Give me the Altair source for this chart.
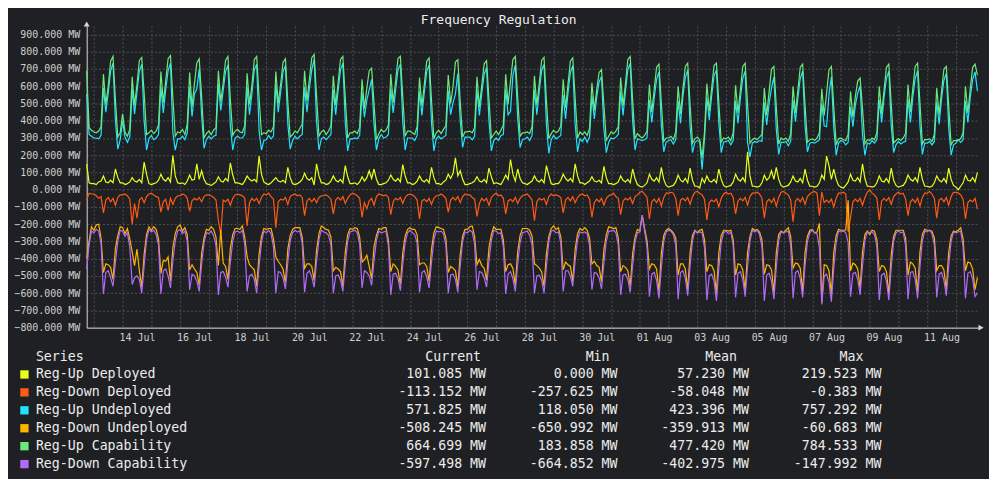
import altair as alt
import pandas as pd

# ---------------- data (2-hour samples, from 12 Jul 18:00) ----------------
START = "2023-07-12 18:00"
STEP = "2h"

reg_up_capability = [
    690, 360, 345,
    335, 330, 340, 365, 670, 495, 600, 745, 773, 520, 305, 330,
    440, 335, 310, 350, 655, 490, 610, 750, 767, 560, 320, 330,
    345, 325, 340, 375, 685, 505, 630, 760, 778, 530, 310, 335,
    330, 350, 320, 380, 680, 480, 615, 735, 759, 540, 300, 325,
    340, 320, 345, 360, 690, 510, 620, 750, 773, 525, 315, 340,
    350, 335, 330, 370, 675, 495, 605, 755, 773, 535, 320, 330,
    325, 345, 335, 365, 685, 500, 610, 740, 759, 510, 305, 320,
    340, 330, 355, 380, 690, 515, 640, 765, 784.5, 545, 310, 335,
    345, 320, 340, 370, 660, 490, 620, 755, 773, 530, 300, 330,
    330, 340, 325, 360, 640, 470, 590, 690, 705, 500, 290, 325,
    350, 335, 345, 375, 670, 505, 625, 760, 773, 540, 310, 340,
    340, 330, 320, 365, 650, 485, 610, 745, 764, 520, 295, 330,
    345, 325, 350, 370, 665, 500, 600, 740, 754, 510, 305, 335,
    335, 340, 330, 360, 655, 480, 605, 730, 748, 525, 300, 320,
    340, 320, 345, 375, 670, 495, 630, 755, 773, 535, 310, 330,
    330, 335, 325, 365, 660, 490, 615, 750, 767, 515, 295, 325,
    345, 330, 340, 370, 640, 475, 610, 745, 764, 530, 300, 335,
    320, 335, 315, 355, 620, 460, 580, 680, 697, 490, 285, 310,
    335, 325, 340, 365, 650, 485, 615, 755, 773, 520, 295, 325,
    310, 300, 315, 340, 610, 450, 580, 710, 728, 500, 280, 300,
    300, 310, 290, 335, 600, 440, 585, 715, 734, 490, 270, 295,
    305, 290, 183.9, 330, 615, 455, 590, 720, 734, 505, 275, 300,
    295, 305, 285, 330, 605, 445, 580, 715, 734, 495, 270, 290,
    300, 290, 305, 320, 590, 430, 570, 700, 715, 480, 265, 300,
    290, 300, 280, 325, 600, 445, 575, 710, 728, 490, 275, 290,
    295, 285, 300, 330, 585, 430, 560, 695, 715, 480, 260, 295,
    300, 290, 285, 320, 570, 420, 540, 630, 647, 470, 265, 290,
    285, 300, 290, 330, 600, 440, 580, 710, 728, 495, 270, 285,
    295, 285, 300, 325, 610, 450, 585, 715, 734, 500, 265, 290,
    290, 295, 280, 320, 590, 435, 570, 700, 715, 485, 260, 285,
    285, 290, 295, 330, 600, 445, 585, 710, 728, 664.7,
]

reg_up_undeployed = [
    555, 320, 310,
    300, 300, 295, 315, 590, 450, 560, 690, 733, 400, 235, 290,
    400, 305, 275, 305, 585, 440, 565, 690, 727, 400, 230, 295,
    315, 290, 300, 320, 595, 445, 580, 690, 733, 330, 230, 295,
    295, 310, 290, 330, 595, 425, 555, 585, 699, 430, 240, 290,
    310, 295, 310, 315, 615, 460, 575, 685, 723, 370, 230, 300,
    310, 300, 300, 320, 595, 435, 555, 695, 728, 340, 230, 285,
    290, 315, 295, 310, 615, 450, 565, 685, 719, 380, 235, 285,
    310, 295, 310, 320, 595, 450, 585, 695, 757.3, 395, 230, 295,
    305, 290, 305, 320, 580, 435, 575, 695, 733, 390, 225, 295,
    295, 300, 295, 315, 565, 420, 520, 580, 640, 380, 230, 295,
    320, 300, 305, 320, 585, 445, 575, 695, 728, 395, 230, 300,
    300, 300, 285, 315, 570, 430, 565, 685, 724, 390, 225, 295,
    310, 295, 305, 315, 575, 435, 505, 555, 674, 400, 245, 305,
    305, 305, 290, 310, 580, 430, 560, 670, 708, 400, 225, 285,
    300, 285, 315, 320, 585, 435, 455, 665, 723, 415, 245, 290,
    295, 305, 285, 315, 580, 435, 570, 690, 727, 375, 210, 290,
    315, 295, 305, 315, 550, 410, 560, 680, 719, 380, 220, 295,
    280, 305, 275, 305, 545, 410, 535, 625, 657, 355, 215, 275,
    300, 295, 305, 320, 570, 430, 570, 695, 733, 400, 230, 295,
    290, 285, 290, 300, 520, 390, 530, 640, 683, 370, 220, 275,
    285, 290, 265, 290, 515, 385, 540, 650, 694, 365, 215, 275,
    285, 280, 118.1, 290, 535, 405, 545, 660, 694, 385, 215, 275,
    280, 285, 260, 285, 515, 385, 530, 645, 689, 276, 190, 270,
    280, 275, 285, 280, 505, 375, 500, 590, 655, 350, 205, 275,
    275, 280, 255, 280, 520, 395, 530, 645, 688, 370, 220, 270,
    275, 270, 280, 290, 500, 370, 365, 555, 655, 360, 200, 270,
    285, 280, 260, 275, 480, 365, 490, 560, 602, 320, 200, 270,
    265, 285, 270, 290, 520, 390, 535, 645, 688, 370, 215, 260,
    280, 265, 275, 280, 525, 390, 535, 645, 689, 370, 205, 270,
    270, 280, 260, 280, 510, 380, 525, 635, 675, 360, 200, 260,
    270, 290, 275, 290, 515, 390, 535, 640, 683, 571.8,
]

reg_up_deployed = [
    148, 40, 35,
    35, 30, 45, 50, 80, 45, 40, 55, 40, 120, 70, 40,
    40, 30, 35, 45, 70, 50, 45, 60, 40, 160, 90, 35,
    30, 35, 40, 55, 90, 60, 50, 70, 45, 200, 80, 40,
    35, 40, 30, 50, 85, 55, 60, 150, 60, 110, 60, 35,
    30, 25, 35, 45, 75, 50, 45, 65, 50, 155, 85, 40,
    40, 35, 30, 50, 80, 60, 50, 60, 45, 195, 90, 45,
    35, 30, 40, 55, 70, 50, 45, 55, 40, 130, 70, 35,
    30, 35, 45, 60, 95, 65, 55, 70, 27, 150, 80, 40,
    40, 30, 35, 50, 80, 55, 45, 60, 40, 140, 75, 35,
    35, 40, 30, 45, 75, 50, 70, 110, 65, 120, 60, 30,
    30, 35, 40, 55, 85, 60, 50, 65, 45, 145, 80, 40,
    40, 30, 35, 50, 80, 55, 45, 60, 40, 130, 70, 35,
    35, 30, 45, 55, 90, 65, 95, 185, 80, 110, 60, 30,
    30, 35, 40, 50, 75, 50, 45, 60, 40, 125, 75, 35,
    40, 35, 30, 55, 85, 60, 175, 90, 50, 120, 65, 40,
    35, 30, 40, 50, 80, 55, 45, 60, 40, 140, 85, 35,
    30, 35, 35, 55, 90, 65, 50, 65, 45, 150, 80, 40,
    40, 30, 40, 50, 75, 50, 45, 55, 40, 135, 70, 35,
    35, 30, 35, 45, 80, 55, 45, 60, 40, 120, 65, 30,
    20, 15, 25, 40, 90, 60, 50, 70, 45, 130, 60, 25,
    15, 20, 25, 45, 85, 55, 45, 65, 40, 125, 55, 20,
    20, 10, 66, 40, 80, 50, 45, 60, 40, 120, 60, 25,
    15, 20, 25, 45, 90, 60, 50, 70, 45, 219.5, 80, 20,
    20, 15, 20, 40, 85, 55, 70, 110, 60, 130, 60, 25,
    15, 20, 25, 45, 80, 50, 45, 65, 40, 120, 55, 20,
    20, 15, 20, 40, 85, 60, 195, 140, 60, 120, 60, 25,
    15, 10, 25, 45, 90, 55, 50, 70, 45, 150, 65, 20,
    20, 15, 20, 40, 80, 50, 45, 65, 40, 125, 55, 25,
    15, 20, 25, 45, 85, 60, 50, 70, 45, 130, 60, 20,
    20, 15, 20, 40, 80, 55, 45, 65, 40, 125, 60, 25,
    15, 0, 20, 40, 85, 55, 50, 70, 45, 101.1,
]

reg_down_deployed = [
    -60, -20, -25,
    -25, -35, -50, -40, -135, -60, -45, -70, -50, -90, -45, -30,
    -30, -25, -35, -55, -200, -80, -165, -60, -45, -75, -40, -25,
    -20, -30, -40, -45, -130, -70, -55, -120, -50, -85, -50, -35,
    -35, -25, -30, -50, -125, -65, -50, -60, -45, -70, -40, -30,
    -30, -35, -45, -60, -180, -257.6, -60, -70, -55, -90, -50, -30,
    -25, -30, -35, -50, -210, -75, -50, -65, -50, -80, -45, -25,
    -30, -20, -40, -55, -220, -70, -55, -60, -45, -85, -40, -30,
    -25, -35, -30, -45, -150, -65, -50, -70, -50, -75, -45, -35,
    -35, -30, -40, -55, -140, -60, -45, -60, -40, -80, -50, -30,
    -20, -25, -35, -50, -160, -75, -110, -65, -50, -90, -40, -25,
    -30, -35, -30, -45, -145, -70, -50, -60, -45, -80, -45, -30,
    -25, -30, -40, -60, -170, -65, -55, -70, -50, -85, -50, -35,
    -35, -25, -35, -50, -130, -60, -45, -60, -40, -75, -40, -25,
    -30, -30, -45, -55, -155, -80, -50, -65, -50, -90, -45, -30,
    -20, -35, -30, -50, -140, -65, -55, -70, -45, -80, -50, -35,
    -30, -25, -40, -60, -180, -70, -50, -60, -50, -85, -40, -25,
    -35, -30, -35, -45, -135, -60, -45, -65, -40, -75, -45, -30,
    -25, -35, -30, -55, -160, -75, -55, -70, -50, -90, -50, -35,
    -30, -20, -40, -50, -145, -65, -50, -60, -45, -80, -40, -30,
    -15, -10, -25, -45, -170, -70, -55, -75, -50, -95, -45, -20,
    -20, -15, -20, -50, -150, -60, -50, -65, -45, -85, -40, -15,
    -10, -20, -30, -55, -175, -75, -60, -70, -55, -100, -50, -25,
    -15, -25, -20, -45, -140, -65, -50, -65, -45, -90, -40, -20,
    -20, -15, -25, -50, -165, -70, -55, -75, -50, -95, -45, -15,
    -10, -20, -30, -60, -185, -65, -50, -70, -45, -85, -40, -25,
    -15, -10, -20, -150, -14, -75, -60, -75, -55, -100, -50, -20,
    -20, -15, -25, -245, -160, -70, -55, -70, -50, -90, -45, -15,
    -0.4, -20, -30, -50, -175, -65, -50, -65, -45, -85, -40, -25,
    -15, -25, -20, -55, -150, -70, -55, -75, -50, -95, -45, -20,
    -20, -10, -25, -50, -165, -60, -50, -70, -45, -90, -40, -15,
    -15, -20, -30, -55, -170, -75, -60, -70, -50, -113.2,
]

reg_down_capability = [
    -460, -320, -240,
    -250, -230, -240, -310, -605, -480, -470, -510, -560, -420, -300, -235,
    -240, -270, -250, -330, -550, -510, -500, -520, -600, -440, -290, -230,
    -245, -235, -260, -320, -605, -470, -460, -500, -570, -410, -295, -240,
    -230, -255, -240, -300, -580, -490, -500, -530, -590, -430, -310, -250,
    -255, -240, -265, -325, -610, -480, -475, -505, -565, -420, -300, -245,
    -240, -250, -235, -315, -590, -500, -490, -520, -600, -445, -305, -240,
    -250, -235, -255, -330, -600, -475, -480, -510, -575, -420, -295, -250,
    -235, -245, -240, -310, -595, -485, -470, -505, -565, -415, -290, -235,
    -245, -250, -265, -320, -600, -500, -495, -525, -590, -430, -300, -245,
    -240, -235, -250, -315, -570, -470, -480, -500, -555, -410, -295, -240,
    -250, -245, -240, -325, -610, -490, -485, -515, -585, -435, -305, -250,
    -235, -250, -260, -310, -595, -480, -470, -505, -570, -420, -290, -240,
    -245, -240, -255, -320, -600, -495, -490, -520, -595, -440, -300, -245,
    -250, -235, -245, -315, -580, -475, -480, -510, -565, -415, -295, -235,
    -240, -255, -250, -330, -605, -490, -475, -515, -590, -430, -305, -250,
    -245, -240, -265, -320, -600, -500, -495, -525, -600, -445, -300, -240,
    -235, -250, -245, -310, -590, -470, -470, -500, -560, -410, -290, -245,
    -250, -245, -255, -325, -580, -480, -485, -510, -575, -425, -300, -240,
    -240, -235, -250, -320, -610, -495, -490, -520, -595, -440, -305, -250,
    -245, -148, -240, -330, -620, -490, -480, -525, -630, -450, -300, -245,
    -235, -240, -260, -320, -635, -480, -470, -515, -615, -440, -295, -240,
    -250, -245, -250, -335, -640, -500, -490, -530, -645, -455, -305, -250,
    -240, -255, -245, -325, -625, -485, -475, -520, -620, -445, -300, -235,
    -245, -235, -260, -330, -645, -495, -485, -530, -635, -450, -295, -245,
    -250, -245, -240, -320, -630, -480, -470, -515, -625, -440, -300, -250,
    -235, -250, -255, -335, -664.9, -500, -490, -535, -650, -455, -305, -240,
    -245, -240, -250, -306, -620, -485, -480, -520, -610, -440, -295, -245,
    -250, -245, -260, -330, -640, -495, -485, -530, -640, -450, -300, -250,
    -240, -250, -245, -325, -635, -480, -475, -520, -630, -445, -295, -240,
    -245, -235, -255, -320, -625, -490, -480, -525, -615, -440, -300, -245,
    -250, -245, -240, -330, -630, -485, -475, -520, -620, -597.5,
]

reg_down_undeployed = [
    -400, -300, -215,
    -235, -205, -200, -280, -480, -430, -435, -450, -520, -340, -265, -215,
    -220, -255, -225, -285, -360, -440, -345, -470, -565, -375, -260, -215,
    -235, -215, -230, -285, -485, -410, -415, -390, -530, -335, -255, -215,
    -205, -240, -220, -260, -465, -435, -460, -480, -555, -370, -280, -230,
    -235, -215, -230, -275, -440, -232, -425, -445, -520, -340, -260, -225,
    -225, -230, -210, -275, -390, -435, -450, -465, -560, -375, -270, -225,
    -230, -225, -225, -285, -390, -415, -435, -460, -540, -345, -265, -230,
    -220, -220, -220, -275, -455, -430, -430, -445, -525, -350, -255, -210,
    -220, -230, -235, -275, -470, -450, -460, -475, -560, -360, -260, -225,
    -230, -220, -225, -275, -420, -405, -380, -445, -515, -330, -265, -225,
    -230, -220, -220, -290, -475, -430, -445, -465, -550, -365, -270, -230,
    -220, -230, -230, -260, -435, -425, -425, -445, -530, -345, -250, -215,
    -220, -225, -230, -280, -480, -445, -455, -470, -565, -375, -270, -230,
    -230, -215, -210, -270, -435, -405, -440, -455, -525, -335, -260, -215,
    -230, -230, -230, -290, -475, -435, -430, -455, -555, -360, -265, -225,
    -225, -225, -235, -270, -430, -440, -455, -475, -560, -370, -270, -225,
    -210, -230, -220, -275, -465, -420, -435, -445, -530, -345, -255, -225,
    -235, -220, -235, -280, -430, -415, -440, -450, -535, -345, -260, -215,
    -220, -225, -220, -280, -475, -440, -450, -470, -560, -370, -275, -230,
    -240, -148, -225, -295, -460, -430, -435, -460, -590, -365, -265, -235,
    -225, -235, -250, -280, -495, -430, -430, -460, -580, -365, -265, -235,
    -250, -235, -230, -290, -475, -435, -440, -470, -600, -365, -265, -235,
    -235, -240, -235, -290, -495, -430, -435, -465, -585, -365, -270, -225,
    -235, -230, -245, -290, -490, -435, -440, -465, -595, -365, -260, -240,
    -250, -235, -220, -270, -455, -425, -430, -455, -590, -365, -270, -235,
    -230, -250, -245, -195, -651.0, -435, -440, -470, -605, -365, -265, -230,
    -235, -235, -235, -60.7, -470, -425, -435, -460, -570, -360, -260, -240,
    -260, -235, -240, -290, -475, -440, -445, -475, -605, -375, -270, -235,
    -235, -235, -235, -280, -495, -420, -430, -455, -590, -360, -260, -230,
    -235, -235, -240, -280, -470, -440, -440, -465, -580, -360, -270, -240,
    -245, -235, -220, -285, -470, -420, -425, -460, -580, -508.2,
]

series_names = ["Reg-Up Deployed", "Reg-Down Deployed", "Reg-Up Undeployed",
                "Reg-Down Undeployed", "Reg-Up Capability", "Reg-Down Capability"]
series_values = [reg_up_deployed, reg_down_deployed, reg_up_undeployed,
                 reg_down_undeployed, reg_up_capability, reg_down_capability]
series_colors = ["#e6ff1c", "#ff5a14", "#22e3ff", "#ffb400", "#6ce87c", "#b06cf8"]

stat_current = ["101.085 MW", "-113.152 MW", "571.825 MW", "-508.245 MW", "664.699 MW", "-597.498 MW"]
stat_min = ["0.000 MW", "-257.625 MW", "118.050 MW", "-650.992 MW", "183.858 MW", "-664.852 MW"]
stat_mean = ["57.230 MW", "-58.048 MW", "423.396 MW", "-359.913 MW", "477.420 MW", "-402.975 MW"]
stat_max = ["219.523 MW", "-0.383 MW", "757.292 MW", "-60.683 MW", "784.533 MW", "-147.992 MW"]

y_ticks = list(range(-800, 901, 100))
Y_MIN, Y_MAX = -800, 950

# ---------------- styling ----------------
BG = "#1f2023"
AXIS_COL = "#d9d9d9"
LABEL_COL = "#cfcfcf"
GRID_COL = "#505154"
TEXT_COL = "#ececec"
FONT = "DejaVu Sans Mono"

rows = []
for name, vals in zip(series_names, series_values):
    times = pd.date_range(START, periods=len(vals), freq=STEP)
    for t, v in zip(times, vals):
        rows.append({"time": t, "value": v, "series": name})
df = pd.DataFrame(rows)

t_start = pd.Timestamp("2023-07-12 18:00")
t_end = pd.Timestamp("2023-08-12 19:20")
dom_start = alt.DateTime(year=2023, month=7, date=12, hours=18)
dom_end = alt.DateTime(year=2023, month=8, date=12, hours=19, minutes=20)
day_ticks = [alt.DateTime(year=d.year, month=d.month, date=d.day)
             for d in pd.date_range("2023-07-13", "2023-08-12", freq="D")]

PLOT_W = 896
PLOT_H = 303

x_axis = alt.Axis(
    values=day_ticks,
    labelExpr="round((datum.value - datetime(2023, 6, 14)) / 86400000) % 2 === 0 ? timeFormat(datum.value, '%d %b') : ''",
    labelOffset=14.4, labelFlush=False, labelOverlap=False, labelAngle=0,
    grid=True, gridColor=GRID_COL, gridDash=[2, 2], gridWidth=1,
    ticks=False, tickSize=0, labelPadding=5,
    domainColor=AXIS_COL, labelColor=LABEL_COL, labelFont=FONT, labelFontSize=10,
    title=None,
)
y_axis = alt.Axis(
    values=y_ticks,
    labelExpr="format(datum.value, '.3f') + ' MW'",
    grid=True, gridColor=GRID_COL, gridDash=[2, 2], gridWidth=1,
    ticks=False, tickSize=0, labelPadding=7, labelOverlap=False,
    domainColor=AXIS_COL, labelColor=LABEL_COL, labelFont=FONT, labelFontSize=10,
    title=None,
)
x_scale = alt.Scale(domain=[dom_start, dom_end])
y_scale = alt.Scale(domain=[Y_MIN, Y_MAX], nice=False, zero=False)

lines = alt.Chart(df).mark_line(strokeWidth=1.2).encode(
    x=alt.X("time:T", scale=x_scale, axis=x_axis),
    y=alt.Y("value:Q", scale=y_scale, axis=y_axis),
    color=alt.Color("series:N", scale=alt.Scale(domain=series_names, range=series_colors), legend=None),
)

# axis-end arrow heads, placed at the scale domain ends
ends_df = pd.DataFrame({"t": [t_start, t_end], "v": [Y_MAX, Y_MIN]})
arrow_up = alt.Chart(ends_df.iloc[[0]]).mark_point(
    shape="triangle-up", filled=True, size=34, opacity=1, color=AXIS_COL, yOffset=-2
).encode(x=alt.X("t:T", scale=x_scale, axis=x_axis), y=alt.Y("v:Q", scale=y_scale, axis=y_axis))
arrow_right = alt.Chart(ends_df.iloc[[1]]).mark_point(
    shape="triangle-right", filled=True, size=34, opacity=1, color=AXIS_COL, xOffset=2
).encode(x=alt.X("t:T", scale=x_scale, axis=x_axis), y=alt.Y("v:Q", scale=y_scale, axis=y_axis))

main = alt.layer(lines, arrow_up, arrow_right).properties(
    width=PLOT_W, height=PLOT_H,
    title=alt.TitleParams("Frequency Regulation", font=FONT, fontSize=13, fontWeight="normal",
                          color=TEXT_COL, anchor="middle", frame="bounds", offset=-6),
)

# ---------------- summary table ----------------
row_domain = ["Series"] + series_names
table_df = pd.DataFrame({"row": series_names, "color": series_colors, "current": stat_current,
                         "min": stat_min, "mean": stat_mean, "max": stat_max})
header_df = pd.DataFrame({"row": ["Series"], "h_series": ["Series"], "h_current": ["Current"],
                          "h_min": ["Min"], "h_mean": ["Mean"], "h_max": ["Max"]})
ty = alt.Y("row:N", scale=alt.Scale(type="point", domain=row_domain, padding=0.5), axis=None)


def txt(data, field, xpos, align):
    return alt.Chart(data).mark_text(align=align, baseline="middle", font=FONT, fontSize=13.3,
                                     color=TEXT_COL).encode(x=alt.value(xpos), y=ty, text=f"{field}:N")


swatch = alt.Chart(table_df).mark_square(size=70, opacity=1).encode(
    x=alt.value(-62.5), y=ty, color=alt.Color("color:N", scale=None))

table = alt.layer(
    swatch,
    txt(table_df, "row", -51, "left"),
    txt(table_df, "current", 401, "right"),
    txt(table_df, "min", 533, "right"),
    txt(table_df, "mean", 665, "right"),
    txt(table_df, "max", 798, "right"),
    txt(header_df, "h_series", -51, "left"),
    txt(header_df, "h_current", 340, "left"),
    txt(header_df, "h_min", 501, "left"),
    txt(header_df, "h_mean", 621, "left"),
    txt(header_df, "h_max", 756, "left"),
).properties(width=PLOT_W, height=126)

chart = alt.vconcat(main, table, spacing=5).properties(
    padding={"left": 5, "top": 5, "right": 5, "bottom": 5}
).configure(background=BG).configure_view(stroke=None)

chart.save("out.html", embed_options={"renderer": "svg", "actions": False})
